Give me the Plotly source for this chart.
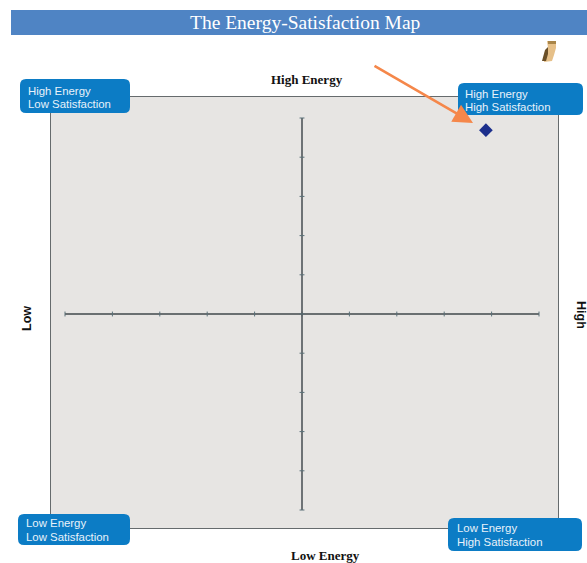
import plotly.graph_objects as go

W, H = 587, 563

# --- data ---
point_x = [3.88]
point_y = [4.69]
tick_values = [-5, -4, -3, -2, -1, 0, 1, 2, 3, 4, 5]
zeros = [0] * len(tick_values)
title_text = "The Energy-Satisfaction Map"
top_label = "High Energy"
bottom_label = "Low Energy"
left_label = "Low"
right_label = "High"
box_labels = [
    ("High Energy", "Low Satisfaction"),
    ("High Energy", "High Satisfaction"),
    ("Low Energy", "Low Satisfaction"),
    ("Low Energy", "High Satisfaction"),
]

# --- pixel helpers ---
def px(x):
    return x / W

def py(y):
    return 1 - y / H

def rounded(x0, y0, x1, y1, r=6):
    pts = [
        f"M{px(x0 + r)},{py(y0)}", f"L{px(x1 - r)},{py(y0)}", f"Q{px(x1)},{py(y0)} {px(x1)},{py(y0 + r)}",
        f"L{px(x1)},{py(y1 - r)}", f"Q{px(x1)},{py(y1)} {px(x1 - r)},{py(y1)}",
        f"L{px(x0 + r)},{py(y1)}", f"Q{px(x0)},{py(y1)} {px(x0)},{py(y1 - r)}",
        f"L{px(x0)},{py(y0 + r)}", f"Q{px(x0)},{py(y0)} {px(x0 + r)},{py(y0)}", "Z",
    ]
    return " ".join(pts)

def conv(path):
    out = []
    toks = path.replace("M", " M ").replace("L", " L ").replace("Z", " Z ").split()
    for t in toks:
        if t in "MLZ":
            out.append(t)
        else:
            a, b = t.split(",")
            out.append(f"{px(float(a))},{py(float(b))}")
    return " ".join(out)

BOX = "#0c7cc5"
fig = go.Figure()

# horizontal and vertical axes, drawn on the data scale
fig.add_trace(go.Scatter(x=tick_values, y=zeros, mode="lines+markers", hoverinfo="skip",
                         line=dict(color="#41474b", width=1.3),
                         marker=dict(symbol="line-ns", size=3.5, line=dict(color="#5a7078", width=1))))
fig.add_trace(go.Scatter(x=zeros, y=tick_values, mode="lines+markers", hoverinfo="skip",
                         line=dict(color="#50565a", width=1.6),
                         marker=dict(symbol="line-ew", size=3.5, line=dict(color="#5a7078", width=1))))
fig.add_trace(go.Scatter(x=point_x, y=point_y, mode="markers",
                         marker=dict(symbol="diamond", size=10.5, color="#1c2f8c")))

shapes = [
    dict(type="rect", xref="paper", yref="paper", x0=px(11), x1=px(587), y0=py(10), y1=py(35),
         fillcolor="#4f84c4", line=dict(width=0), layer="below"),
]
boxes = [(20, 79, 130, 113), (458, 83, 583, 115), (18, 514, 130, 545), (448, 518, 582, 551)]
for b in boxes:
    shapes.append(dict(type="path", xref="paper", yref="paper", path=rounded(*b),
                       fillcolor=BOX, line=dict(width=0), layer="above"))

# small owl figurine at top right
shapes.append(dict(type="path", xref="paper", yref="paper",
                   path=conv("M547,41 L556,41 L556,48 L554,55 L552,61 L544,62 L545,54 L548,48 Z"),
                   fillcolor="#e6c089", line=dict(width=0)))
shapes.append(dict(type="path", xref="paper", yref="paper",
                   path=conv("M542,61 L545,50 L548,47 L548,54 L546,61 Z"),
                   fillcolor="#6a4f28", line=dict(width=0)))
shapes.append(dict(type="rect", xref="paper", yref="paper", x0=px(548), x1=px(556), y0=py(44), y1=py(41),
                   fillcolor="#a98548", line=dict(width=0)))

def text(x, y, s, size, color, family, bold=False, angle=0, xanchor="center", yanchor="middle", align="center"):
    return dict(xref="paper", yref="paper", x=px(x), y=py(y), text=f"<b>{s}</b>" if bold else s,
                showarrow=False, font=dict(size=size, color=color, family=family), textangle=angle,
                xanchor=xanchor, yanchor=yanchor, align=align, borderpad=0, borderwidth=0)

SERIF = "Liberation Serif"
SANS = "Liberation Sans"
annos = [
    text(305, 22.5, title_text, 19.5, "white", SERIF),
    text(307, 79.5, top_label, 13, "#111111", SERIF, bold=True),
    text(325, 555.5, bottom_label, 13, "#111111", SERIF, bold=True),
    text(27, 319, left_label, 12.5, "#111111", SANS, bold=True, angle=-90),
    text(581, 315, right_label, 12.5, "#111111", SANS, bold=True, angle=90),
]
anchors = [(28, 90.5, 104), (465, 94, 106.5), (26, 523, 537), (457, 528, 541.5)]
for (ax, y1, y2), (l1, l2) in zip(anchors, box_labels):
    annos.append(text(ax, y1, l1, 11.4, "#e8f2fa", SANS, xanchor="left", align="left"))
    annos.append(text(ax, y2, l2, 11.4, "#e8f2fa", SANS, xanchor="left", align="left"))

annos.append(dict(xref="paper", yref="paper", x=px(473), y=py(123), axref="pixel", ayref="pixel",
                  ax=373 - 473, ay=65 - 123, text="", showarrow=True, arrowhead=2, arrowsize=1.5,
                  arrowwidth=2.6, arrowcolor="#f5874a"))

per_x = 47.4
per_y = 39.2
fig.update_layout(
    width=W, height=H, margin=dict(l=0, r=0, t=0, b=0), autosize=False,
    paper_bgcolor="white", plot_bgcolor="#e7e5e3", showlegend=False,
    shapes=shapes, annotations=annos,
    xaxis=dict(domain=[px(51), px(558)], range=[(51 - 302) / per_x, (558 - 302) / per_x],
               showgrid=False, zeroline=False, showticklabels=False, ticks="",
               showline=True, mirror=True, linecolor="#666b6d", linewidth=1),
    yaxis=dict(domain=[py(528), py(97)], range=[(314 - 528) / per_y, (314 - 97) / per_y],
               showgrid=False, zeroline=False, showticklabels=False, ticks="",
               showline=True, mirror=True, linecolor="#666b6d", linewidth=1),
)

fig.write_html("out.html", config=dict(displayModeBar=False),
               post_script="document.body.style.margin='0';document.documentElement.style.overflow='hidden';")
